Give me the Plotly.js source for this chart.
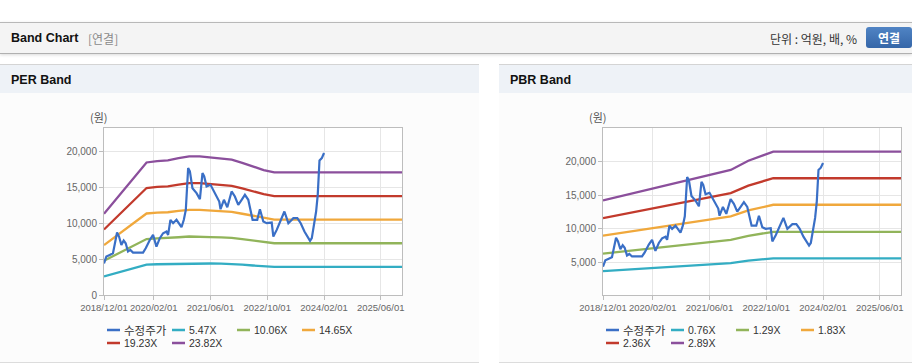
<!DOCTYPE html>
<html><head><meta charset="utf-8">
<script src="https://cdn.plot.ly/plotly-3.0.1.min.js"></script>
<style>
body{margin:0;width:912px;height:364px;overflow:hidden;background:#fff;position:relative;font-family:"Liberation Sans",Arial,"Noto Sans CJK KR",sans-serif;}
#hdr{position:absolute;left:0;top:22px;width:912px;height:30px;background:#f4f4f4;border-top:1px solid #b8b8b8;border-bottom:1px solid #b0b0b0;box-shadow:0 1px 3px rgba(0,0,0,0.15);}
#hdr .t{position:absolute;left:11px;top:0;line-height:31px;font-size:12.5px;font-weight:bold;color:#111;}
#hdr .s{position:absolute;left:88px;top:0;line-height:31px;font-size:12px;color:#8a8a8a;font-family:"Noto Sans CJK KR",sans-serif;}
#hdr .u{position:absolute;left:770px;top:0;line-height:31px;font-size:12px;color:#333;font-family:"Noto Sans CJK KR",sans-serif;}
#hdr .b{position:absolute;left:866px;top:4px;width:46px;height:21px;border-radius:3px;background:linear-gradient(#5084c4,#3566a8);color:#fff;font-weight:bold;font-size:12px;line-height:21px;text-align:center;font-family:"Noto Sans CJK KR",sans-serif;}
.panel{position:absolute;top:64px;height:297px;border-top:1px solid #d4d4d4;border-bottom:1px solid #dcdcdc;background:#fcfcfc;}
.panel .h{height:28px;background:#eef2f7;font-size:12.5px;font-weight:bold;color:#111;line-height:31px;padding-left:11px;}
.chart{position:absolute;top:93px;height:269px;}
</style></head>
<body>
<div id="hdr"><span class="t">Band Chart</span><span class="s">[연결]</span><span class="u">단위 : 억원, 배, %</span><div class="b">연결</div></div>
<div class="panel" style="left:0;width:479px;"><div class="h">PER Band</div></div>
<div class="panel" style="left:499px;width:413px;"><div class="h">PBR Band</div></div>
<div id="per" class="chart" style="left:0;width:479px;"></div>
<div id="pbr" class="chart" style="left:499px;width:413px;"></div>
<script>
// ---- data ----
const priceDates = ['2018-12-01','2018-12-21','2019-01-19','2019-02-16','2019-03-23','2019-04-09','2019-04-29','2019-05-19','2019-06-05','2019-06-25','2019-07-15','2019-08-07','2019-10-04','2019-11-01','2019-11-24','2019-12-14','2019-12-29','2020-01-26','2020-02-24','2020-03-24','2020-04-21','2020-05-20','2020-06-03','2020-06-23','2020-07-16','2020-08-14','2020-09-26','2020-10-16','2020-11-02','2020-11-22','2020-12-07','2020-12-29','2021-02-02','2021-03-03','2021-03-25','2021-04-09','2021-04-29','2021-06-02','2021-06-25','2021-07-24','2021-08-16','2021-08-27','2021-09-25','2021-10-24','2021-11-30','2021-12-28','2022-01-26','2022-02-24','2022-03-24','2022-04-22','2022-05-29','2022-07-08','2022-07-31','2022-08-29','2022-09-27','2022-11-09','2022-11-23','2022-12-22','2023-01-19','2023-02-26','2023-04-01','2023-05-14','2023-06-17','2023-07-16','2023-08-17','2023-09-11','2023-10-04','2023-10-19','2023-11-02','2023-11-25','2023-12-09','2023-12-24','2024-01-13','2024-02-01'];
const priceValues = [4400,5350,5580,5810,8700,8140,6980,7580,7210,6050,6280,5910,5910,5910,6510,7210,7670,8370,6740,7910,8600,8840,8370,10470,10000,10470,9440,10470,11860,17670,17210,14880,14190,13350,16980,16510,15120,15350,14650,13630,13020,11950,13260,12230,14420,13720,12560,13260,13950,13260,10470,10470,11950,10230,10000,10090,8140,9070,10230,11630,10000,10700,10700,10000,8840,8140,7540,7910,9300,11630,13950,18740,19070,19770];

const perBandDates = ['2018-12-01','2019-03-01','2019-06-01','2019-09-01','2019-12-01','2020-03-01','2020-06-01','2020-09-01','2020-12-01','2021-03-01','2021-06-01','2021-09-01','2021-12-01','2022-03-01','2022-06-01','2022-09-01','2022-12-01','2025-12-01'];
const per547  = [2594,3008,3416,3827,4238,4282,4303,4374,4431,4431,4390,4358,4326,4225,4110,3995,3919,3919];
const per1006 = [4772,5532,6284,7040,7796,7876,7914,8045,8150,8150,8074,8015,7956,7770,7559,7348,7209,7209];
const per1465 = [6950,8057,9151,10252,11353,11470,11525,11716,11870,11870,11759,11673,11587,11316,11009,10701,10498,10498];
const per1923 = [9122,10576,12013,13458,14903,15056,15129,15379,15581,15581,15436,15323,15210,14854,14451,14047,13781,13781];
const per2382 = [11300,13100,14880,16670,18460,18650,18740,19050,19300,19300,19120,18980,18840,18400,17900,17400,17070,17070];

const pbrBandDates = ['2018-12-01','2019-12-01','2020-12-01','2021-12-01','2022-05-01','2022-12-01','2025-12-01'];
const pbr076 = [3736,4134,4531,4929,5286,5637,5637];
const pbr129 = [6342,7016,7691,8365,8972,9568,9568];
const pbr183 = [8996,9952,10909,11866,12728,13573,13573];
const pbr236 = [11602,12836,14070,15303,16414,17504,17504];
const pbr289 = [14208,15718,17229,18740,20100,21435,21435];

const perNames = ['수정주가','5.47X','10.06X','14.65X','19.23X','23.82X'];
const pbrNames = ['수정주가','0.76X','1.29X','1.83X','2.36X','2.89X'];
const seriesColors = ['#3a6fc6','#33adc3','#91b45a','#f0a83c','#c23a2c','#8b4f9c'];
const xTickVals = ['2018-12-01','2020-02-01','2021-06-01','2022-10-01','2024-02-01','2025-06-01'];
const xTickText = ['2018/12/01','2020/02/01','2021/06/01','2022/10/01','2024/02/01','2025/06/01'];
const perYTicks = [0,5000,10000,15000,20000];
const pbrYTicks = [5000,10000,15000,20000];
const yUnit = '(원)';

// ---- drawing ----
const FONT = '"Liberation Sans",Arial,"Noto Sans CJK KR",sans-serif';
const PW = 298, PH = 167; // plot area size in px

function build(div, names, bandDates, bands, yTicks, yRange, rightMargin){
  const traces = [];
  bands.forEach((b,i)=>{
    traces.push({x:bandDates, y:b, type:'scatter', mode:'lines', name:names[i+1],
      line:{color:seriesColors[i+1], width:2.3}, hoverinfo:'skip'});
  });
  traces.push({x:priceDates, y:priceValues, type:'scatter', mode:'lines', name:names[0],
    line:{color:seriesColors[0], width:2.2}, hoverinfo:'skip'});

  // custom legend (2 rows: 4 + 2)
  const shapes = [], annotations = [];
  names.forEach((n,i)=>{
    const col = i % 4, row = Math.floor(i/4);
    const x0 = 3 + 65*col;
    const yPx = 202 + 13*row;
    const yp = 1 - yPx/PH;
    const korean = /[가-힣]/.test(n);
    shapes.push({type:'line', xref:'paper', yref:'paper', x0:x0/PW, x1:(x0+13)/PW, y0:yp, y1:yp,
      line:{color:seriesColors[i], width:2.5}});
    annotations.push({xref:'paper', yref:'paper', x:(x0+15)/PW, y:yp, xanchor:'left', yanchor:'middle',
      text:n, showarrow:false, font:{family:korean?'"Noto Sans CJK KR",sans-serif':FONT, size:korean?11.5:10.5, color:'#333'}});
  });
  annotations.push({xref:'paper', yref:'paper', x:-5/PW, y:1+11/PH, xanchor:'center', yanchor:'middle',
    text:yUnit, showarrow:false, font:{family:'"Noto Sans CJK KR",sans-serif', size:11, color:'#555'}});

  const layout = {
    width: 104 + PW + rightMargin, height: 269,
    margin:{l:104, r:rightMargin, t:35, b:67, pad:0},
    paper_bgcolor:'rgba(0,0,0,0)', plot_bgcolor:'#ffffff',
    showlegend:false,
    font:{family:FONT, size:10, color:'#666'},
    xaxis:{type:'date', range:['2018-12-01','2025-12-01'], tickvals:xTickVals, ticktext:xTickText,
      tickangle:0, showgrid:true, gridcolor:'#e6e6e6', gridwidth:1, showline:true, linecolor:'#bdbdbd',
      linewidth:1, mirror:true, ticks:'outside', ticklen:4, tickcolor:'#bdbdbd',
      tickfont:{family:FONT, size:9.5, color:'#666'}, zeroline:false, fixedrange:true},
    yaxis:{range:yRange, tickvals:yTicks, tickformat:',d', showgrid:true, gridcolor:'#e6e6e6',
      showline:true, linecolor:'#bdbdbd', linewidth:1, mirror:true, ticks:'outside', ticklen:4,
      tickcolor:'#bdbdbd', tickfont:{family:FONT, size:10, color:'#666'}, zeroline:false, fixedrange:true},
    shapes:shapes, annotations:annotations
  };
  Plotly.newPlot(div, traces, layout, {displayModeBar:false, staticPlot:true});
}

build('per', perNames, perBandDates, [per547,per1006,per1465,per1923,per2382], perYTicks, [0,23260], 77);
build('pbr', pbrNames, pbrBandDates, [pbr076,pbr129,pbr183,pbr236,pbr289], pbrYTicks, [200,24950], 11);
</script>
</body></html>
